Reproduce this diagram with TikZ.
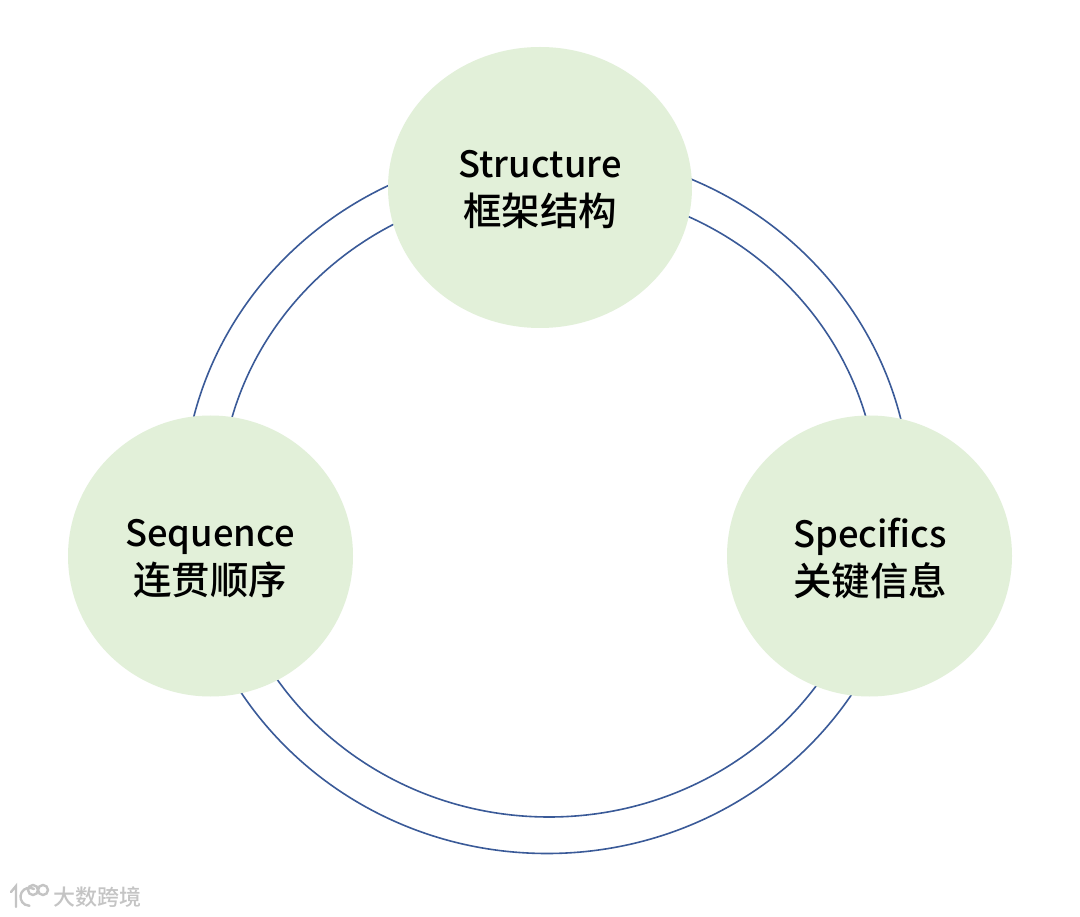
\documentclass[tikz,border=0pt]{standalone}
\usepackage{fontspec}
\setmainfont{Noto Sans CJK SC}[BoldFont={Noto Sans CJK SC Medium}]
\definecolor{bubble}{HTML}{E2F0D9}
\definecolor{ringline}{HTML}{3A5A98}
\definecolor{mark}{HTML}{C4C4C4}
\newcommand{\latinline}[1]{{\fontsize{36.3}{48}\selectfont #1\vphantom{Sqp}}}
\newcommand{\cjkline}[1]{{\fontsize{38.5}{48}\selectfont #1}}
\tikzset{
  ringpath/.style={draw=ringline,line width=1.6pt,fill=none},
  bubblefill/.style={fill=bubble,draw=none},
  bubbletext/.style={align=center,font=\bfseries,text=black,inner sep=0pt},
  logopath/.style={draw=mark,line width=2.4pt,line cap=round,fill=none},
}
\begin{document}
\begin{tikzpicture}[x=1pt,y=-1pt]
\useasboundingbox (0,0) rectangle (1080,917);
\fill[white] (0,0) rectangle (1080,917);
\coordinate (outerc) at (547,502);
\coordinate (innerc) at (549,502);
\draw[ringpath] (outerc) ellipse [x radius=364,y radius=351.5];
\draw[ringpath] (innerc) ellipse [x radius=329,y radius=315];
\fill[bubblefill] (540,187.5) ellipse [x radius=152,y radius=140.5];
\fill[bubblefill] (210.5,556) ellipse [x radius=142.5,y radius=140.5];
\fill[bubblefill] (869.5,556) ellipse [x radius=142.5,y radius=140.5];
\node[bubbletext] (structure) at (540,189.5) {\latinline{Structure}\\[6pt]\cjkline{框架结构}};
\node[bubbletext] (sequence) at (210,558.5) {\latinline{Sequence}\\[6pt]\cjkline{连贯顺序}};
\node[bubbletext] (specifics) at (870,558.5) {\latinline{Specifics}\\[6pt]\cjkline{关键信息}};
\draw[logopath] (11,892) -- (16,886) -- (16,907);
\draw[logopath] (34,889) arc[start angle=-60,end angle=-270,radius=9];
\draw[logopath] (33,890) circle[radius=5];
\draw[logopath] (43,890) circle[radius=5];
\node[inner sep=0pt,text=mark,font=\bfseries\fontsize{22}{24}\selectfont] (brand) at (97,897) {大数跨境};
\end{tikzpicture}
\end{document}
